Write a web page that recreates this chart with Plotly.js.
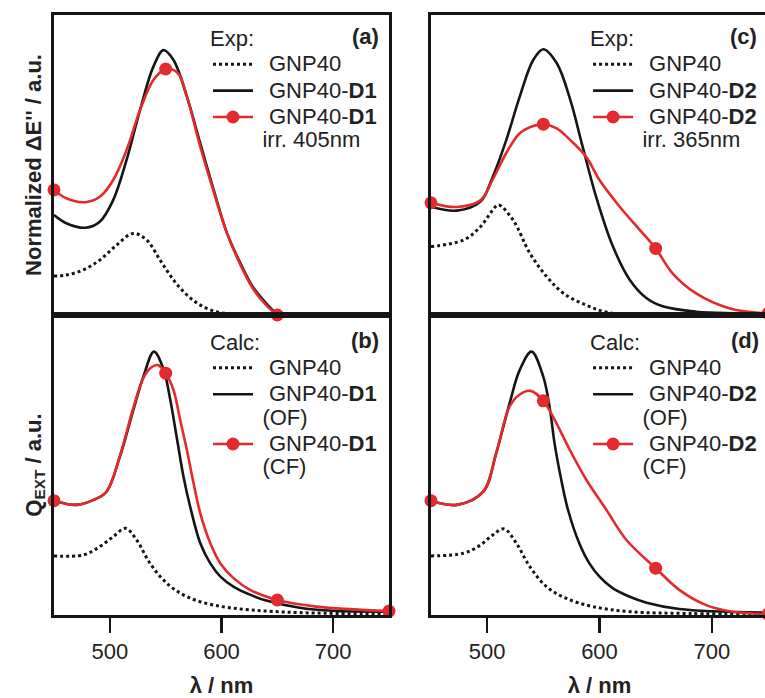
<!DOCTYPE html>
<html>
<head>
<meta charset="utf-8">
<script src="https://cdn.plot.ly/plotly-3.0.1.min.js"></script>
<style>
html, body { margin: 0; padding: 0; overflow: hidden; background: #fff; }
#chart { width: 775px; height: 698px; }
</style>
</head>
<body>
<div id="chart"></div>
<script>
// ---------- data (wavelength in nm, normalized intensity) ----------
// Panel (a) Exp, D1
const aRefX   = [450, 461, 476, 491, 506, 521, 533, 545, 557, 569, 581, 595, 610, 630, 650];
const aRefY   = [0.130, 0.133, 0.150, 0.183, 0.233, 0.272, 0.250, 0.183, 0.117, 0.067, 0.033, 0.011, 0.003, 0.0, 0.0];
const aOpenX  = [450, 461, 478, 491, 503, 515, 527, 539, 548, 557, 569, 581, 593, 605, 617, 628, 640, 650];
const aOpenY  = [0.333, 0.306, 0.291, 0.311, 0.383, 0.517, 0.683, 0.828, 0.883, 0.850, 0.728, 0.572, 0.417, 0.272, 0.172, 0.094, 0.039, 0.0];
const aIrrX   = [450, 461, 478, 491, 503, 515, 527, 539, 550, 561, 569, 581, 593, 605, 617, 628, 640, 650];
const aIrrY   = [0.417, 0.389, 0.376, 0.394, 0.450, 0.550, 0.683, 0.783, 0.820, 0.806, 0.728, 0.561, 0.411, 0.272, 0.167, 0.089, 0.033, 0.0];

// Panel (b) Calc, D1
const bRefX   = [450, 476, 491, 503, 514, 524, 536, 551, 569, 593, 626, 670, 750];
const bRefY   = [0.197, 0.200, 0.228, 0.261, 0.289, 0.250, 0.172, 0.106, 0.061, 0.033, 0.017, 0.008, 0.003];
const bOpenX  = [450, 470, 485, 497, 509, 521, 530, 539.5, 548, 554, 560, 566, 572, 581, 590, 599, 611, 626, 640, 670, 700, 750];
const bOpenY  = [0.381, 0.367, 0.383, 0.411, 0.528, 0.683, 0.794, 0.878, 0.820, 0.720, 0.590, 0.460, 0.360, 0.239, 0.172, 0.128, 0.094, 0.067, 0.048, 0.024, 0.014, 0.011];
const bCloseX = [450, 470, 485, 497, 509, 521, 530, 537, 543, 550, 557, 563, 569, 575, 581, 590, 599, 611, 626, 650, 685, 750];
const bCloseY = [0.381, 0.367, 0.383, 0.411, 0.530, 0.690, 0.790, 0.825, 0.833, 0.806, 0.750, 0.650, 0.550, 0.439, 0.339, 0.239, 0.172, 0.122, 0.083, 0.050, 0.028, 0.013];

// Panel (c) Exp, D2
const cRefX   = [450, 479, 494, 505, 510, 523, 538, 553, 568, 588, 608, 640, 700, 750];
const cRefY   = [0.228, 0.250, 0.294, 0.350, 0.367, 0.317, 0.206, 0.128, 0.072, 0.033, 0.008, 0.0, 0.0, 0.0];
const cOpenX  = [450, 473, 494, 505, 517, 529, 541, 550, 562, 574, 585, 597, 612, 627, 642, 657, 686, 720, 750];
const cOpenY  = [0.361, 0.348, 0.378, 0.461, 0.583, 0.728, 0.850, 0.886, 0.839, 0.717, 0.561, 0.394, 0.228, 0.117, 0.056, 0.028, 0.011, 0.006, 0.005];
const cIrrX   = [450, 473, 494, 505, 517, 529, 541, 550, 562, 574, 588, 600, 618, 636, 650, 665, 686, 716, 750];
const cIrrY   = [0.374, 0.360, 0.382, 0.452, 0.540, 0.606, 0.630, 0.636, 0.622, 0.583, 0.528, 0.450, 0.361, 0.283, 0.222, 0.139, 0.072, 0.022, 0.005];

// Panel (d) Calc, D2
const dRefX   = [450, 479, 494, 505, 515, 526, 538, 553, 570, 594, 627, 680, 750];
const dRefY   = [0.197, 0.206, 0.233, 0.267, 0.287, 0.239, 0.161, 0.094, 0.056, 0.028, 0.011, 0.005, 0.003];
const dOpenX  = [450, 473, 496.5, 508, 520, 529, 539.5, 550, 556, 560, 566, 572, 582, 591, 600, 612, 627, 642, 671, 745];
const dOpenY  = [0.381, 0.367, 0.411, 0.539, 0.706, 0.817, 0.878, 0.794, 0.683, 0.572, 0.450, 0.350, 0.239, 0.172, 0.128, 0.089, 0.061, 0.041, 0.020, 0.008];
const dCloseX = [450, 473, 496.5, 508, 520, 529, 538.6, 550, 561.7, 573.6, 588.4, 606.2, 624, 650, 671.3, 695, 718.7, 750];
const dCloseY = [0.381, 0.367, 0.411, 0.539, 0.695, 0.735, 0.747, 0.714, 0.639, 0.550, 0.450, 0.350, 0.250, 0.156, 0.083, 0.033, 0.011, 0.003];

// marker wavelengths on the red curves
const markedX = [450, 550, 650, 750];

// labels
const panelLabels = ['(a)', '(b)', '(c)', '(d)'];
const legendTitles = ['Exp:', 'Calc:', 'Exp:', 'Calc:'];
const tickVals = [500, 600, 700];

// ---------- styling ----------
const RED = '#e32a2c';
const BLACK = '#151515';
const TXT = '#222';
const FONT = 'Liberation Sans, Arial, Helvetica, sans-serif';

// first legend line (with an en space gap after the symbol), continuation line (thin space)
function l1(s) { return '<span style="font-size:22px">\u2002' + s + '</span>'; }
function l2(s) { return '<br><span style="font-size:22px">\u2009' + s + '</span>'; }

function refTrace(x, y, xa, ya, lg) {
  return { x, y, xaxis: xa, yaxis: ya, legend: lg, type: 'scatter', mode: 'lines',
    name: l1('GNP40'), line: { color: BLACK, width: 3, dash: 'dot', shape: 'spline', smoothing: 1 },
    hoverinfo: 'x+y' };
}
function openTrace(x, y, xa, ya, lg, name) {
  return { x, y, xaxis: xa, yaxis: ya, legend: lg, type: 'scatter', mode: 'lines',
    name, line: { color: BLACK, width: 2.6, shape: 'spline', smoothing: 1 }, hoverinfo: 'x+y' };
}
function redTrace(x, y, xa, ya, lg, name) {
  return { x, y, xaxis: xa, yaxis: ya, legend: lg, type: 'scatter', mode: 'lines+markers',
    name, cliponaxis: false,
    line: { color: RED, width: 2.6, shape: 'spline', smoothing: 1 },
    marker: { size: 13, color: x.map(v => markedX.includes(v) ? RED : 'rgba(0,0,0,0)') },
    hoverinfo: 'x+y' };
}

const data = [
  refTrace(aRefX, aRefY, 'x', 'y', 'legend'),
  openTrace(aOpenX, aOpenY, 'x', 'y', 'legend', l1('GNP40-<b>D1</b>')),
  redTrace(aIrrX, aIrrY, 'x', 'y', 'legend', l1('GNP40-<b>D1</b>') + l2('irr. 405nm')),

  refTrace(bRefX, bRefY, 'x2', 'y2', 'legend2'),
  openTrace(bOpenX, bOpenY, 'x2', 'y2', 'legend2', l1('GNP40-<b>D1</b>') + l2('(OF)')),
  redTrace(bCloseX, bCloseY, 'x2', 'y2', 'legend2', l1('GNP40-<b>D1</b>') + l2('(CF)')),

  refTrace(cRefX, cRefY, 'x3', 'y3', 'legend3'),
  openTrace(cOpenX, cOpenY, 'x3', 'y3', 'legend3', l1('GNP40-<b>D2</b>')),
  redTrace(cIrrX, cIrrY, 'x3', 'y3', 'legend3', l1('GNP40-<b>D2</b>') + l2('irr. 365nm')),

  refTrace(dRefX, dRefY, 'x4', 'y4', 'legend4'),
  openTrace(dOpenX, dOpenY, 'x4', 'y4', 'legend4', l1('GNP40-<b>D2</b>') + l2('(OF)')),
  redTrace(dCloseX, dCloseY, 'x4', 'y4', 'legend4', l1('GNP40-<b>D2</b>') + l2('(CF)'))
];

const LEFT = [0, 0.4692];
const RIGHT = [0.528, 1];

function xAx(domain, anchor, bottom) {
  const ax = { domain, anchor, range: [450, 750], showline: true, mirror: true, linecolor: BLACK,
    linewidth: 3, showgrid: false, zeroline: false, fixedrange: true };
  if (bottom) {
    Object.assign(ax, { ticks: 'outside', ticklen: 15, tickwidth: 2.5, tickcolor: BLACK,
      tickvals: tickVals, ticktext: tickVals.map(String), tickfont: { size: 22, color: TXT, family: FONT },
      title: { text: '<b>λ / nm</b>', font: { size: 22, color: TXT, family: FONT }, standoff: 16 } });
  } else {
    Object.assign(ax, { ticks: '', showticklabels: false });
  }
  return ax;
}
function yAx(domain, anchor, title) {
  const ax = { domain, anchor, range: [0, 1], showline: true, mirror: true, linecolor: BLACK,
    linewidth: 3, showgrid: false, zeroline: false, ticks: '', showticklabels: false, fixedrange: true };
  if (title) ax.title = { text: title, font: { size: 22, color: TXT, family: FONT }, standoff: 4 };
  return ax;
}
function leg(x, y, title) {
  return { x, y, xref: 'paper', yref: 'paper', xanchor: 'left', yanchor: 'top',
    bgcolor: 'rgba(0,0,0,0)', borderwidth: 0, itemwidth: 40, valign: 'top', tracegroupgap: 0,
    font: { size: 18, color: TXT, family: FONT },
    title: { text: title, font: { size: 22, color: TXT, family: FONT } } };
}
function label(text, x, y) {
  return { text: '<b>' + text + '</b>', x, y, xref: 'paper', yref: 'paper', xanchor: 'right',
    yanchor: 'middle', showarrow: false, font: { size: 22, color: TXT, family: FONT } };
}

const layout = {
  width: 775, height: 698,
  margin: { l: 54, r: 7, t: 15, b: 83 },
  paper_bgcolor: '#fff', plot_bgcolor: '#fff',
  font: { family: FONT, size: 22, color: TXT },
  showlegend: true,
  xaxis: xAx(LEFT, 'y', false),
  yaxis: yAx([0.5, 1], 'x', "<b>Normalized ΔE'' / a.u.</b>"),
  xaxis2: xAx(LEFT, 'y2', true),
  yaxis2: yAx([0, 0.5], 'x2', '<b>Q<sub>EXT</sub> / a.u.</b>'),
  xaxis3: xAx(RIGHT, 'y3', false),
  yaxis3: yAx([0.5, 1], 'x3', null),
  xaxis4: xAx(RIGHT, 'y4', true),
  yaxis4: yAx([0, 0.5], 'x4', null),
  legend: leg(0.2157, 0.996, legendTitles[0]),
  legend2: leg(0.2157, 0.490, legendTitles[1]),
  legend3: leg(0.748, 0.996, legendTitles[2]),
  legend4: leg(0.748, 0.490, legendTitles[3]),
  annotations: [
    label(panelLabels[0], 0.4580, 0.965),
    label(panelLabels[1], 0.4580, 0.458),
    label(panelLabels[2], 0.988, 0.965),
    label(panelLabels[3], 0.990, 0.458)
  ]
};

Plotly.newPlot('chart', data, layout, { displayModeBar: false, staticPlot: true });
</script>
</body>
</html>
